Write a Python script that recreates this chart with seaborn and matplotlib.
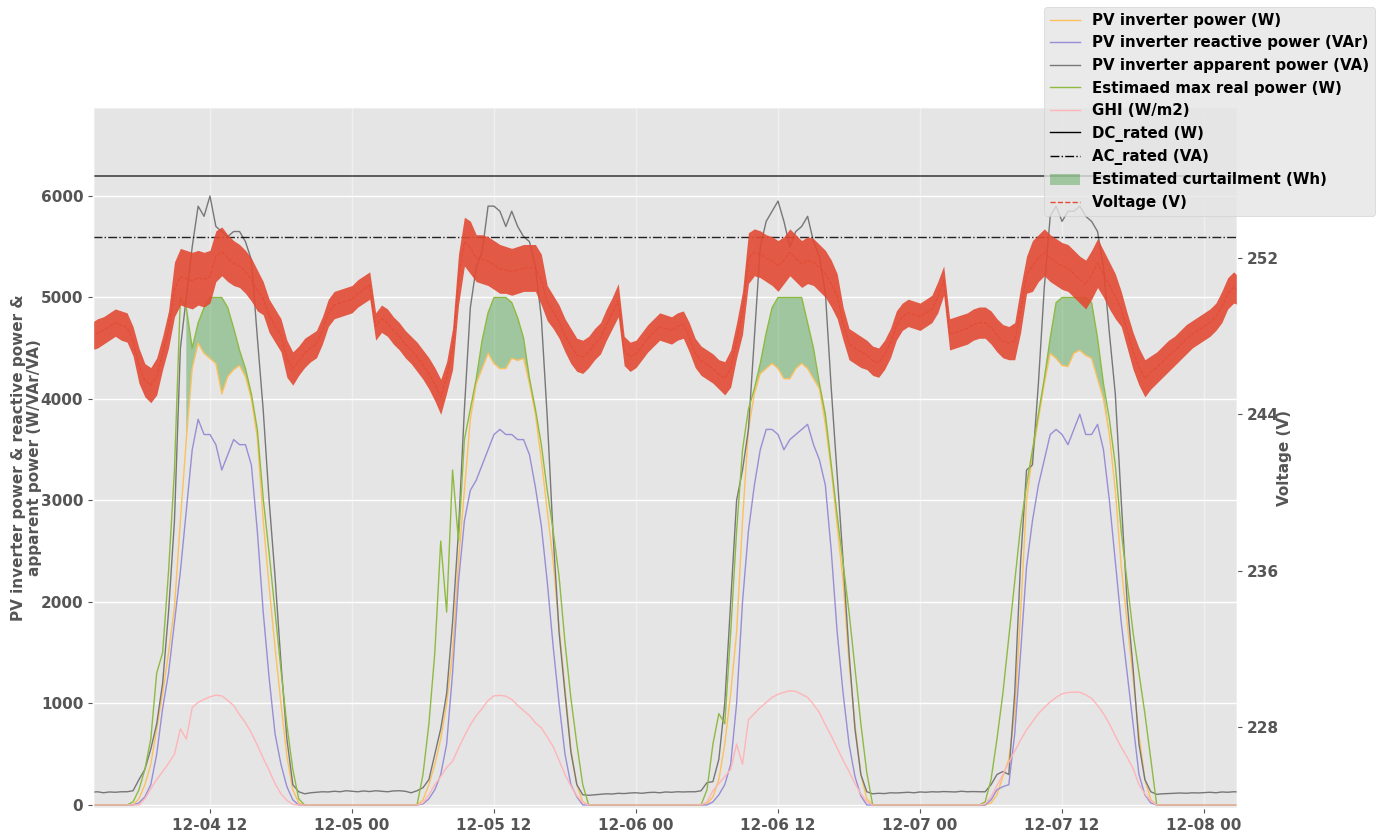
import numpy as np
import pandas as pd
import matplotlib
matplotlib.use("Agg")
import matplotlib.pyplot as plt
import matplotlib.dates as mdates
from matplotlib.lines import Line2D
from matplotlib.patches import Patch
import seaborn as sns

plt.style.use("ggplot")
plt.rcParams["font.family"] = ["DejaVu Sans"]
plt.rcParams["font.weight"] = "bold"
plt.rcParams["axes.labelweight"] = "bold"

# ---- daytime samples, every 30 min from 05:00 to 19:30 (12-04 .. 12-07) ----
pv_power = [
    [0, 0, 60, 200, 400, 750, 1100, 1500, 1950, 2800, 3600, 4300, 4550, 4450, 4400,
     4350, 4050, 4220, 4290, 4330, 4220, 4000, 3620, 2800, 2150, 1550, 1000, 480, 150, 20],
    [0, 0, 50, 200, 400, 650, 1000, 1500, 2400, 3100, 3800, 4150, 4300, 4450, 4350,
     4300, 4300, 4400, 4380, 4400, 4150, 3850, 3400, 2900, 2400, 1750, 1150, 550, 200, 30],
    [0, 0, 10, 80, 250, 600, 1100, 1700, 2800, 3700, 4050, 4250, 4300, 4350, 4300,
     4200, 4200, 4300, 4350, 4300, 4200, 4100, 3750, 3300, 2750, 2200, 1400, 800, 300, 60],
    [0, 0, 20, 100, 280, 450, 900, 1900, 3000, 3450, 3800, 4150, 4450, 4400, 4330,
     4320, 4450, 4480, 4430, 4400, 4200, 4000, 3650, 3100, 2350, 1800, 1250, 700, 250, 50],
]
reactive_power = [
    [0, 0, 20, 80, 200, 500, 950, 1300, 1800, 2300, 2900, 3500, 3800, 3650, 3650,
     3550, 3300, 3450, 3600, 3550, 3550, 3350, 2700, 1900, 1250, 700, 400, 180, 50, 0],
    [0, 0, 10, 60, 150, 300, 600, 1300, 2200, 2800, 3100, 3200, 3350, 3500, 3650,
     3700, 3650, 3650, 3600, 3600, 3450, 3130, 2750, 2200, 1560, 1000, 500, 200, 80, 0],
    [0, 0, 0, 30, 100, 200, 400, 1000, 2000, 2700, 3150, 3500, 3700, 3700, 3650,
     3500, 3600, 3650, 3700, 3750, 3550, 3400, 3150, 2500, 1700, 1100, 600, 280, 90, 0],
    [0, 0, 50, 150, 180, 200, 700, 1500, 2350, 2800, 3150, 3400, 3650, 3700, 3650,
     3550, 3700, 3850, 3650, 3650, 3750, 3500, 3000, 2400, 1800, 1300, 800, 300, 100, 20],
]
apparent_power = [
    [130, 140, 250, 350, 550, 800, 1200, 1900, 2800, 4500, 5000, 5500, 5900, 5800, 6000,
     5700, 5650, 5600, 5650, 5650, 5550, 5370, 4610, 3890, 3000, 2250, 1400, 650, 200, 130],
    [120, 140, 170, 250, 500, 750, 1100, 1800, 2700, 3900, 4900, 5300, 5450, 5900, 5900,
     5850, 5700, 5850, 5700, 5600, 5550, 5300, 4800, 3820, 2650, 1700, 1100, 520, 200, 100],
    [130, 140, 220, 230, 450, 1000, 2000, 3000, 3300, 3700, 4600, 5500, 5750, 5850, 5950,
     5750, 5500, 5650, 5700, 5800, 5550, 5400, 5050, 4100, 3250, 2400, 1500, 750, 300, 130],
    [130, 130, 200, 300, 330, 300, 1100, 2400, 3300, 3350, 4150, 5100, 5800, 5900, 5750,
     5850, 5850, 5900, 5800, 5750, 5650, 5300, 4650, 4050, 3000, 2000, 1350, 600, 250, 130],
]
est_max_power = [
    [0, 30, 150, 350, 650, 1300, 1500, 2300, 3300, 5000, 4900, 4500, 4750, 4900, 5000,
     5000, 5000, 4900, 4700, 4480, 4300, 4050, 3700, 3020, 2480, 1900, 1330, 790, 350, 60],
    [0, 0, 300, 800, 1500, 2600, 1900, 3300, 2600, 3600, 3900, 4200, 4580, 4850, 5000,
     5000, 5000, 4950, 4800, 4600, 4200, 3900, 3550, 3100, 2700, 2250, 1600, 1050, 600, 200],
    [0, 0, 150, 600, 900, 800, 1700, 2700, 3500, 3900, 4100, 4350, 4650, 4900, 5000,
     5000, 5000, 5000, 5000, 4750, 4500, 4150, 3850, 3350, 2850, 2380, 1900, 1350, 800, 320],
    [0, 30, 250, 650, 1100, 1650, 2200, 2750, 3150, 3500, 3850, 4200, 4600, 4950, 5000,
     5000, 5000, 5000, 5000, 4950, 4600, 4150, 3800, 3350, 2700, 2200, 1700, 1300, 900, 450],
]
ghi = [
    [0, 0, 0, 60, 160, 250, 330, 410, 500, 750, 650, 960, 1010, 1040, 1065,
     1082, 1075, 1030, 980, 890, 810, 710, 590, 460, 340, 210, 110, 45, 5, 0],
    [0, 0, 20, 100, 200, 280, 370, 430, 560, 680, 790, 880, 950, 1030, 1075,
     1080, 1072, 1040, 980, 930, 880, 810, 760, 670, 575, 440, 300, 185, 90, 25],
    [0, 0, 30, 140, 210, 280, 350, 600, 400, 840, 900, 960, 1010, 1060, 1090,
     1110, 1125, 1120, 1090, 1060, 990, 910, 790, 680, 560, 440, 330, 210, 110, 30],
    [0, 10, 80, 190, 300, 420, 530, 640, 740, 820, 900, 960, 1015, 1060, 1095,
     1108, 1112, 1110, 1085, 1050, 980, 900, 800, 680, 570, 470, 360, 200, 110, 40],
]

# night-time apparent power (inverter standby), 30-min samples
apparent_night = [
    [125, 130, 120, 128, 125, 130],
    [110, 120, 125, 130, 128, 135, 130, 140, 135, 130, 138, 132, 140, 135, 130, 138, 140, 135],
    [95, 100, 105, 110, 108, 115, 112, 118, 120, 115, 122, 125, 120, 128, 125, 130, 128, 130],
    [110, 115, 112, 120, 118, 122, 125, 120, 128, 125, 130, 128, 132, 130, 128, 135, 130, 132],
    [105, 110, 112, 115, 118, 115, 120, 118, 122, 125, 120, 128, 125, 130, 128],
]
zero_night = [[0] * 6, [0] * 18, [0] * 18, [0] * 18, [0] * 15]

# ---- grid voltage band (upper / lower envelope), every 30 min from 12-04 02:00 ----
volt_upper = [
    248.7, 248.9, 249.0, 249.2, 249.4, 249.3, 249.2, 248.5, 247.4, 246.6,
    246.4, 246.9, 248.0, 249.3, 251.8, 252.5, 252.4, 252.3, 252.4, 252.3,
    252.4, 253.4, 253.6, 253.2, 252.9, 252.7, 252.4, 252.0, 251.4, 250.8,
    249.9, 249.4, 248.9, 247.8, 247.2, 247.5, 247.9, 248.1, 248.3, 249.0,
    249.9, 250.3, 250.4, 250.5,
    250.6, 250.9, 251.1, 251.3, 249.2, 249.6, 249.4, 249.0, 248.7, 248.3,
    248.0, 247.7, 247.3, 246.9, 246.4, 245.8, 246.7, 248.4, 252.2, 254.1,
    253.9, 253.2, 253.2, 253.1, 252.9, 252.7, 252.6, 252.5, 252.6, 252.7,
    252.7, 252.7, 252.2, 250.6, 250.1, 249.6, 248.9, 248.4, 247.9, 247.8,
    248.0, 248.4, 248.7, 249.4, 250.0, 250.7, 248.0, 247.7,
    247.8, 248.2, 248.6, 248.9, 249.2, 249.1, 249.0, 249.2, 249.3, 248.7,
    247.9, 247.5, 247.3, 247.1, 246.8, 246.7, 247.3, 248.7, 250.3, 253.3,
    253.5, 253.4, 253.2, 253.1, 252.9, 253.1, 253.5, 253.2, 252.9, 253.1,
    253.0, 252.7, 252.4, 251.9, 251.2, 249.5, 248.4, 248.2, 248.0, 247.8,
    247.5, 247.4, 247.8, 248.4, 249.3, 249.7, 249.9, 249.8,
    249.7, 249.9, 250.1, 250.8, 251.6, 248.9, 249.0, 249.1, 249.2, 249.4,
    249.5, 249.5, 249.3, 248.9, 248.6, 248.5, 248.7, 250.5, 252.1, 252.9,
    253.2, 253.5, 253.2, 253.0, 252.8, 252.7, 252.4, 252.1, 251.9, 252.4,
    253.0, 252.4, 251.8, 251.2, 250.3, 249.2, 248.2, 247.4, 246.8, 247.0,
    247.2, 247.5, 247.8, 248.0, 248.3, 248.6, 248.8, 249.0,
    249.2, 249.4, 249.7, 250.3, 251.0, 251.3, 251.0,
]
volt_lower = [
    247.3, 247.4, 247.6, 247.8, 248.0, 247.8, 247.7, 247.0, 245.6, 244.9,
    244.6, 245.0, 246.3, 247.4, 249.0, 249.6, 249.5, 249.4, 249.6, 249.5,
    249.7, 250.8, 251.1, 250.8, 250.6, 250.5, 250.2, 249.8, 249.3, 249.1,
    248.2, 247.7, 247.2, 245.9, 245.5, 246.0, 246.4, 246.7, 246.9, 247.6,
    248.5, 248.9, 249.0, 249.1,
    249.2, 249.5, 249.7, 249.9, 247.8, 248.2, 248.0, 247.6, 247.3, 246.9,
    246.6, 246.2, 245.8, 245.3, 244.7, 244.0, 245.1, 246.3, 249.6, 251.6,
    251.2, 250.8, 250.7, 250.6, 250.4, 250.2, 250.2, 250.1, 250.2, 250.3,
    250.3, 250.3, 249.6, 248.8, 248.4, 247.9, 247.2, 246.6, 246.2, 246.1,
    246.4, 246.8, 247.1, 247.8, 248.4, 249.0, 246.5, 246.2,
    246.4, 246.8, 247.2, 247.5, 247.8, 247.7, 247.6, 247.8, 247.9, 247.2,
    246.4, 246.0, 245.8, 245.6, 245.3, 245.0, 245.4, 246.9, 248.1, 250.7,
    251.1, 251.0, 250.8, 250.6, 250.3, 250.7, 251.1, 250.8, 250.5, 250.7,
    250.6, 250.3, 250.0, 249.5, 248.9, 247.8, 246.8, 246.6, 246.4, 246.3,
    246.0, 245.9, 246.3, 246.9, 247.8, 248.3, 248.5, 248.4,
    248.3, 248.5, 248.7, 249.2, 250.1, 247.3, 247.4, 247.5, 247.6, 247.8,
    247.9, 247.9, 247.6, 247.2, 246.9, 246.8, 246.8, 248.2, 250.2, 250.3,
    250.8, 251.1, 250.8, 250.6, 250.4, 250.3, 250.0, 249.7, 249.4, 249.9,
    250.5, 250.0, 249.4, 248.9, 248.5, 247.4, 246.3, 245.5, 244.9, 245.3,
    245.6, 245.9, 246.2, 246.5, 246.8, 247.1, 247.4, 247.6,
    247.8, 248.0, 248.3, 248.7, 249.4, 249.7, 249.6,
]

DC_RATED = 6200
AC_RATED = 5600
CURTAIL_S_MIN = 5000  # inverter considered at its limit above this apparent power

labels = [
    "PV inverter power (W)",
    "PV inverter reactive power (VAr)",
    "PV inverter apparent power (VA)",
    "Estimaed max real power (W)",
    "GHI (W/m2)",
    "DC_rated (W)",
    "AC_rated (VA)",
    "Estimated curtailment (Wh)",
    "Voltage (V)",
]

C_PV, C_Q, C_S, C_EST, C_GHI, C_V = "#FBC15E", "#988ED5", "#777777", "#8EBA42", "#FFB5B8", "#E24A33"


def assemble(days, nights):
    vals = list(nights[0])
    for d, n in zip(days, nights[1:]):
        vals += list(d) + list(n)
    return np.array(vals, dtype=float)


start = pd.Timestamp("2021-12-04 02:00")
times = pd.date_range(start, periods=195, freq="30min")
pv = assemble(pv_power, zero_night)
q = assemble(reactive_power, zero_night)
s = assemble(apparent_power, apparent_night)
est = assemble(est_max_power, zero_night)
irr = assemble(ghi, zero_night)

# voltage in long form: both envelope readings per timestamp
volt_df = pd.DataFrame({
    "time": np.concatenate([times, times]),
    "voltage": np.concatenate([volt_upper, volt_lower]),
})

fig = plt.figure(figsize=(13.85, 8.32), dpi=100)
ax = fig.add_axes([93 / 1385, 1 - 808 / 832, (1237 - 93) / 1385, (808 - 107) / 832])

lw = 1.0
sns.lineplot(x=times, y=pv, ax=ax, color=C_PV, linewidth=lw, errorbar=None, legend=False)
sns.lineplot(x=times, y=q, ax=ax, color=C_Q, linewidth=lw, errorbar=None, legend=False)
sns.lineplot(x=times, y=s, ax=ax, color=C_S, linewidth=lw, errorbar=None, legend=False)
sns.lineplot(x=times, y=est, ax=ax, color=C_EST, linewidth=lw, errorbar=None, legend=False)
sns.lineplot(x=times, y=irr, ax=ax, color=C_GHI, linewidth=lw, errorbar=None, legend=False)
ax.axhline(DC_RATED, color="k", lw=1.3, alpha=0.65)
ax.axhline(AC_RATED, color="k", lw=1.0, ls="-.", alpha=0.85)
ax.fill_between(times, pv, est, where=(est > pv) & (s >= CURTAIL_S_MIN),
                interpolate=True, color="green", alpha=0.3, lw=0)

ax.set_ylim(-30, 6877)
ax.set_yticks([0, 1000, 2000, 3000, 4000, 5000, 6000])
ax.set_xlim(pd.Timestamp("2021-12-04 02:07"), pd.Timestamp("2021-12-08 02:47"))
ax.xaxis.set_major_locator(mdates.HourLocator(byhour=[0, 12]))
ax.xaxis.set_major_formatter(mdates.DateFormatter("%m-%d %H"))
ax.grid(axis="y", color="white", lw=1)
ax.grid(axis="x", color="white", lw=1, alpha=0.4)
ax.tick_params(labelsize=11)
ax.set_xlabel("")
ax.set_ylabel("PV inverter power & reactive power &\napparent power (W/VAr/VA)",
              fontsize=11, color="#555555", labelpad=-1, linespacing=1.05)

ax2 = ax.twinx()
sns.lineplot(data=volt_df, x="time", y="voltage", ax=ax2, color=C_V, linewidth=0.7,
             linestyle="--", errorbar=("pi", 100),
             err_kws={"alpha": 0.9, "linewidth": 0}, legend=False)
ax2.set_ylim(223.85, 259.74)
ax2.set_yticks([228, 236, 244, 252])
ax2.grid(False)
ax2.tick_params(labelsize=11)
ax2.set_xlim(ax.get_xlim())
ax2.set_xlabel("")
ax2.set_ylabel("Voltage (V)", fontsize=11, color="#555555", labelpad=-1)

handles = [
    Line2D([], [], color=C_PV, lw=1),
    Line2D([], [], color=C_Q, lw=1),
    Line2D([], [], color=C_S, lw=1),
    Line2D([], [], color=C_EST, lw=1),
    Line2D([], [], color=C_GHI, lw=1),
    Line2D([], [], color="k", lw=1),
    Line2D([], [], color="k", lw=1, ls="-."),
    Patch(facecolor="green", alpha=0.3, edgecolor="none"),
    Line2D([], [], color=C_V, lw=1, ls="--"),
]
leg = ax2.legend(handles, labels, loc="upper right",
                 bbox_to_anchor=(1375 / 1385, 1 - 7 / 832),
                 bbox_transform=fig.transFigure, borderaxespad=0,
                 prop={"weight": "bold", "size": 10.8}, labelspacing=0.5)

fig.savefig("out.png", dpi=100)
